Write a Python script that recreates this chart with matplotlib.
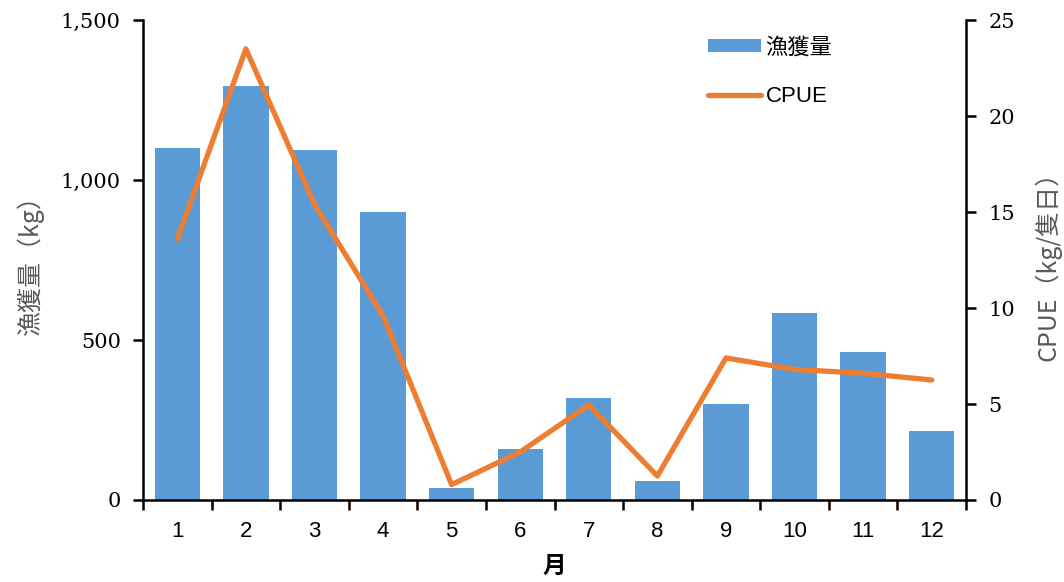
import matplotlib
matplotlib.use("Agg")
import matplotlib.pyplot as plt
from matplotlib.ticker import FuncFormatter, FixedLocator

# data
months = [1, 2, 3, 4, 5, 6, 7, 8, 9, 10, 11, 12]
catch_kg = [1100, 1295, 1094, 900, 38, 160, 320, 60, 300, 585, 463, 216]
cpue = [13.6, 23.5, 15.4, 9.6, 0.8, 2.5, 4.95, 1.25, 7.4, 6.8, 6.6, 6.25]

plt.rcParams['font.family'] = ['Noto Sans CJK TC', 'DejaVu Sans']

fig = plt.figure(figsize=(10.64, 5.82), dpi=100)
ax = fig.add_axes([0.1344, 0.1409, 0.7735, 0.8247])
ax2 = ax.twinx()

blue = '#5B9BD5'
orange = '#ED7D31'
grey = '#595959'

b = ax.bar(months, catch_kg, width=0.66, color=blue, label='漁獲量', zorder=2)
l, = ax2.plot(months, cpue, color=orange, lw=3.8, solid_capstyle='round',
              solid_joinstyle='round', label='CPUE', zorder=3)

ax.set_xlim(0.5, 12.5)
ax.set_ylim(0, 1500)
ax2.set_ylim(0, 25)
ax.set_yticks([0, 500, 1000, 1500])
ax2.set_yticks([0, 5, 10, 15, 20, 25])
ax.yaxis.set_major_formatter(FuncFormatter(lambda v, p: '{:,.0f}'.format(v)))

# x ticks: labels at centres, marks between categories
ax.set_xticks(months)
ax.set_xticklabels([str(m) for m in months], family='Liberation Sans', fontsize=16)
ax.tick_params(axis='x', which='major', length=0, pad=15)
ax.xaxis.set_minor_locator(FixedLocator([m + 0.5 for m in [0] + months]))
ax.tick_params(axis='x', which='minor', length=7, width=1.8, direction='out')

for a in (ax, ax2):
    a.tick_params(axis='y', length=7, width=1.8, direction='out', pad=9)
    for t in a.get_yticklabels():
        t.set_family('DejaVu Serif')
        t.set_fontsize(15)
    a.spines['top'].set_visible(False)
for s in ('left', 'bottom'):
    ax.spines[s].set_linewidth(1.8)
ax2.spines['right'].set_linewidth(1.8)
ax2.spines['left'].set_visible(False)
ax2.spines['bottom'].set_visible(False)
ax.spines['right'].set_visible(False)

ax.set_xlabel('月', fontsize=17, fontweight='bold', labelpad=9)
ax.set_ylabel('漁獲量（kg）', fontsize=18, color=grey, labelpad=12)
ax2.set_ylabel('CPUE（kg/隻日）', fontsize=18, color=grey, labelpad=14)

leg = ax2.legend([b, l], ['漁獲量', 'CPUE'], loc='upper left',
                 bbox_to_anchor=(0.662, 1.01), frameon=False, fontsize=16,
                 handlelength=2.4, handleheight=0.5, handletextpad=0.2,
                 labelspacing=1.25)
leg.get_texts()[1].set_family(['Liberation Sans', 'DejaVu Sans'])

fig.savefig('out.png', dpi=100)
